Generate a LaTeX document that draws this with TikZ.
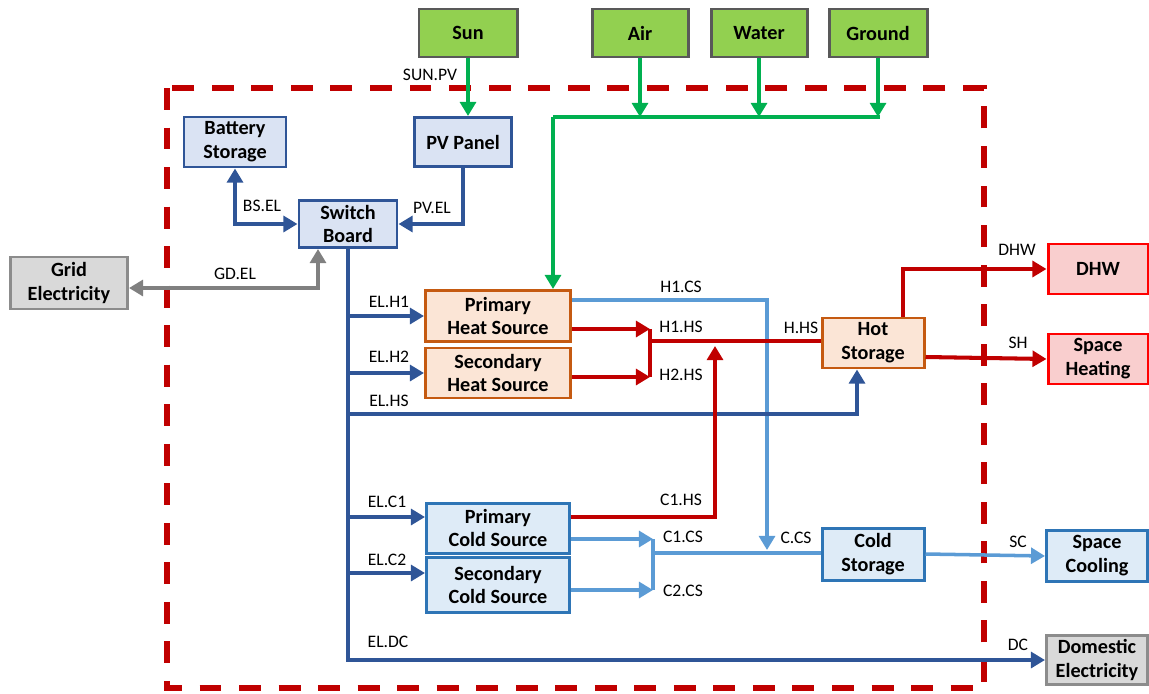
\documentclass[tikz,border=0pt]{standalone}
\usepackage{fontspec}
\setmainfont{Carlito}
\usepackage{xcolor}
\usepackage{tikz}
\usetikzlibrary{arrows.meta}
\usetikzlibrary{calc}
\definecolor{srcfill}{HTML}{92D050}
\definecolor{srcdraw}{HTML}{595959}
\definecolor{elfill}{HTML}{DAE3F3}
\definecolor{eldraw}{HTML}{2F5597}
\definecolor{heatfill}{HTML}{FBE5D6}
\definecolor{heatdraw}{HTML}{C55A11}
\definecolor{coldfill}{HTML}{DEEBF7}
\definecolor{colddraw}{HTML}{2E75B6}
\definecolor{loadfill}{HTML}{F9CECE}
\definecolor{loaddraw}{HTML}{FF0000}
\definecolor{gridfill}{HTML}{D9D9D9}
\definecolor{griddraw}{HTML}{8C8C8C}
\definecolor{greenline}{HTML}{00B050}
\definecolor{redline}{HTML}{C00000}
\definecolor{blueline}{HTML}{2F5597}
\definecolor{coolline}{HTML}{5B9BD5}
\definecolor{grayline}{HTML}{808080}
\def\px{0.02cm}
\def\boxw{1.7pt}
\def\flow{2.3pt}
\tikzset{
	box/.style={draw, line width=\boxw, align=center, inner sep=0pt,
		font=\bfseries\fontsize{11.5}{13.6}\selectfont},
	srcbox/.style={box, fill=srcfill, draw=srcdraw},
	elbox/.style={box, fill=elfill, draw=eldraw},
	heatbox/.style={box, fill=heatfill, draw=heatdraw},
	coldbox/.style={box, fill=coldfill, draw=colddraw},
	loadbox/.style={box, fill=loadfill, draw=loaddraw},
	gridbox/.style={box, fill=gridfill, draw=griddraw},
	greenflow/.style={line width=\flow, draw=greenline, color=greenline},
	elflow/.style={line width=\flow, draw=blueline, color=blueline},
	heatflow/.style={line width=\flow, draw=redline, color=redline},
	coolflow/.style={line width=2pt, draw=coolline, color=coolline},
	gridflow/.style={line width=\flow, draw=grayline, color=grayline},
	frame/.style={draw=redline, line width=3.4pt, dash pattern=on 12.5pt off 10pt},
	lbl/.style={inner sep=0pt, font=\fontsize{10}{12}\selectfont}
}

\begin{document}
\begin{tikzpicture}[x=\px, y=-\px, >={Triangle[length=8pt,width=9pt]}]
	\useasboundingbox (0,0) rectangle (1149,693);
	\draw[frame] (167,88) rectangle (984,688);

	\node[srcbox, minimum width=98*\px, minimum height=48*\px] (sun) at (468,33) {Sun};
	\node[srcbox, minimum width=96*\px, minimum height=48*\px] (air) at (640,33) {Air};
	\node[srcbox, minimum width=96*\px, minimum height=48*\px] (water) at (759,33) {Water};
	\node[srcbox, minimum width=98*\px, minimum height=48*\px] (ground) at (878,33) {Ground};

	\node[elbox, minimum width=102*\px, minimum height=50*\px] (battery) at (235,142) {Battery\\Storage};
	\node[elbox, minimum width=97*\px, minimum height=49*\px] (pv) at (463,142) {PV Panel};
	\node[elbox, minimum width=98*\px, minimum height=47*\px] (switch) at (348,224) {Switch\\Board};
	\node[gridbox, minimum width=117*\px, minimum height=52*\px] (grid) at (69,283) {Grid\\Electricity};

	\node[heatbox, minimum width=145*\px, minimum height=51*\px] (phs) at (498,316) {Primary\\Heat Source};
	\node[heatbox, minimum width=145*\px, minimum height=50*\px] (shs) at (498,373) {Secondary\\Heat Source};
	\node[coldbox, minimum width=143*\px, minimum height=50*\px] (pcs) at (498,528) {Primary\\Cold Source};
	\node[coldbox, minimum width=143*\px, minimum height=55*\px] (scs) at (498,585) {Secondary\\Cold Source};

	\node[heatbox, minimum width=102*\px, minimum height=50*\px] (hot) at (873,343) {Hot\\Storage};
	\node[coldbox, minimum width=102*\px, minimum height=52*\px] (cold) at (873,554) {Cold\\Storage};

	\node[loadbox, minimum width=100*\px, minimum height=50*\px] (dhw) at (1098,269) {DHW};
	\node[loadbox, minimum width=100*\px, minimum height=50*\px] (sh) at (1098,359) {Space\\Heating};
	\node[coldbox, minimum width=101*\px, minimum height=51*\px] (sc) at (1097,556) {Space\\Cooling};
	\node[gridbox, minimum width=101*\px, minimum height=49*\px] (dc) at (1097,660) {Domestic\\Electricity};

	\coordinate (gbus) at (553,117);
	\coordinate (elhsrow) at (0,414);
	\coordinate (hsj) at (650,341);
	\coordinate (chs) at (715,346);
	\coordinate (csj) at (653,553);
	\coordinate (ccs) at (767,550);
	\coordinate (h1out) at ($(phs.east)+(0,13)$);
	\coordinate (h2out) at ($(shs.east)+(0,4)$);
	\coordinate (h1cs) at ($(phs.east)+(0,-16)$);
	\coordinate (c1out) at ($(pcs.east)+(0,-11)$);
	\coordinate (c1cs) at ($(pcs.east)+(0,11)$);
	\coordinate (c2cs) at ($(scs.east)+(0,5)$);
	\coordinate (pcsin) at ($(pcs.west)+(0,-11)$);
	\coordinate (scsin) at ($(scs.west)+(0,-12)$);
	\coordinate (elbot) at (switch.south |- dc.west);

	\draw[greenflow,->] (sun.south) -- (sun.south |- pv.north);
	\draw[greenflow] (gbus) -- ($(gbus -| ground.south)+(2,0)$);
	\draw[greenflow,->] (air.south) -- (air.south |- gbus);
	\draw[greenflow,->] (water.south) -- (water.south |- gbus);
	\draw[greenflow,->] (ground.south) -- (ground.south |- gbus);
	\draw[greenflow,->] (gbus) -- (gbus |- phs.north);

	\draw[coolflow,->] (h1cs) -| (ccs);
	\draw[coolflow,->] (c1cs) -- (c1cs -| csj);
	\draw[coolflow,->] (c2cs) -- (c2cs -| csj);
	\draw[coolflow] (c1cs -| csj) -- (c2cs -| csj);
	\draw[coolflow] (csj) -- (csj -| cold.west);
	\draw[coolflow,->] (cold.east) -- (sc.west);

	\draw[elflow,<->] (battery.south) |- (switch.west);
	\draw[elflow,->] (pv.south) |- (switch.east);
	\draw[gridflow,<->] ($(switch.south)+(-30,0)$) |- ($(grid.east)+(0,5)$);
	\draw[elflow,->] (switch.south) -- (elbot) -- (dc.west);
	\draw[elflow,->] (switch.south |- phs.west) -- (phs.west);
	\draw[elflow,->] (switch.south |- shs.west) -- (shs.west);
	\draw[elflow,->] (switch.south |- elhsrow) -| ($(hot.south)+(-16,0)$);
	\draw[elflow,->] (switch.south |- pcsin) -- (pcsin);
	\draw[elflow,->] (switch.south |- scsin) -- (scsin);

	\draw[heatflow,->] (h1out) -- (h1out -| hsj);
	\draw[heatflow,->] (h2out) -- (h2out -| hsj);
	\draw[heatflow] (h1out -| hsj) -- (h2out -| hsj);
	\draw[heatflow] (hsj) -- (hsj -| hot.west);
	\draw[heatflow,->] (c1out) -| (chs);
	\draw[heatflow,->] ($(hot.north)+(30,0)$) |- (dhw.west);
	\draw[heatflow,->] ($(hot.east)+(0,14)$) -- (sh.west);

	\node[lbl] (lsunpv) at (430,75) {SUN.PV};
	\node[lbl] (lbsel) at (262,206) {BS.EL};
	\node[lbl] (lpvel) at (432,208) {PV.EL};
	\node[lbl] (lgdel) at (235,274) {GD.EL};
	\node[lbl] (lelh1) at (389,302) {EL.H1};
	\node[lbl] (lelh2) at (389,357) {EL.H2};
	\node[lbl] (lelhs) at (389,401) {EL.HS};
	\node[lbl] (lelc1) at (387,502) {EL.C1};
	\node[lbl] (lelc2) at (387,560) {EL.C2};
	\node[lbl] (leldc) at (388,642) {EL.DC};
	\node[lbl] (lh1cs) at (681,287) {H1.CS};
	\node[lbl] (lh1hs) at (681,327) {H1.HS};
	\node[lbl] (lh2hs) at (681,375) {H2.HS};
	\node[lbl] (lhhs) at (801,328) {H.HS};
	\node[lbl] (lc1hs) at (681,500) {C1.HS};
	\node[lbl] (lc1cs) at (683,537) {C1.CS};
	\node[lbl] (lc2cs) at (683,591) {C2.CS};
	\node[lbl] (lccs) at (796,538) {C.CS};
	\node[lbl] (ldhw) at (1017,250) {DHW};
	\node[lbl] (lsh) at (1018,343) {SH};
	\node[lbl] (lsc) at (1018,542) {SC};
	\node[lbl] (ldc) at (1018,645) {DC};
\end{tikzpicture}
\end{document}
